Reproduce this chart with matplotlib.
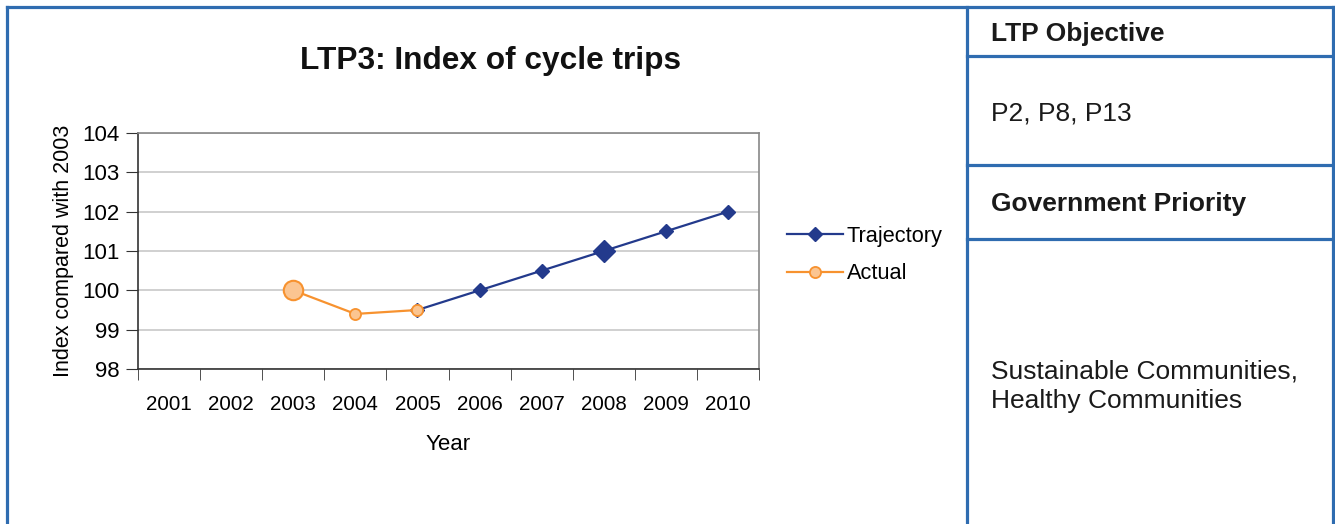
import numpy as np
import matplotlib.pyplot as plt
from matplotlib.lines import Line2D

plt.rcParams['font.family'] = ['Liberation Sans', 'DejaVu Sans']

# data
years = ['2001', '2002', '2003', '2004', '2005', '2006', '2007', '2008', '2009', '2010']
traj_years = ['2005', '2006', '2007', '2008', '2009', '2010']
traj_vals = [99.5, 100.0, 100.5, 101.0, 101.5, 102.0]
actual_years = ['2003', '2004', '2005']
actual_vals = [100.0, 99.4, 99.5]

W, H = 1335, 524
fig = plt.figure(figsize=(W / 100, H / 100), dpi=100)

def fx(px):
    return px / W

def fy(py):
    return 1 - py / H

# panel borders
border = '#2F6CB0'
segs = [((6.5, 6.5), (6.5, 530)), ((6.5, 1333), (6.5, 6.5)), ((966.5, 966.5), (6.5, 530)),
        ((1333, 1333), (6.5, 530)), ((966.5, 1333), (56, 56)), ((966.5, 1333), (164.5, 164.5)),
        ((966.5, 1333), (239.5, 239.5))]
for xs, ys in segs:
    fig.add_artist(Line2D([fx(x) for x in xs], [fy(y) for y in ys], color=border, lw=2.3,
                          solid_capstyle='projecting'))

# right side text
fs_r = 19
fig.text(fx(991), fy(34), 'LTP Objective', fontsize=fs_r, fontweight='bold', color='#1a1a1a', va='center')
fig.text(fx(991), fy(113), 'P2, P8, P13', fontsize=fs_r, color='#1a1a1a', va='center')
fig.text(fx(991), fy(204), 'Government Priority', fontsize=fs_r, fontweight='bold', color='#1a1a1a', va='center')
fig.text(fx(991), fy(386), 'Sustainable Communities,\nHealthy Communities', fontsize=fs_r, color='#1a1a1a',
         va='center', linespacing=1.3)

# chart
ax = fig.add_axes([fx(138), fy(369), fx(759) - fx(138), fy(133) - fy(369)])
xpos = {y: i for i, y in enumerate(years)}
tx = [xpos[y] for y in traj_years]
axx = [xpos[y] for y in actual_years]

navy = '#233A8C'
orange = '#F7922F'
ax.plot(tx, traj_vals, color=navy, lw=1.6, marker='D', ms=7, mfc=navy, mec=navy, label='Trajectory', zorder=3)
ax.plot(xpos['2008'], traj_vals[traj_years.index('2008')], 'D', color=navy, ms=11, zorder=4)
ax.plot(axx, actual_vals, color=orange, lw=1.6, marker='o', ms=8, mfc='#FBC591', mec=orange, mew=1.3,
        label='Actual', zorder=5)
ax.plot(xpos['2003'], actual_vals[0], 'o', ms=14, mfc='#FBC591', mec=orange, mew=1.5, zorder=6)

ax.set_xlim(-0.5, len(years) - 0.5)
ax.set_ylim(98, 104)
ax.set_yticks(np.arange(98, 105, 1))
ax.set_xticks(np.arange(len(years)))
ax.set_xticklabels(years)
ax.set_xticks(np.arange(-0.5, len(years), 1), minor=True)
ax.tick_params(axis='x', which='major', length=0, pad=19, labelsize=14.8)
ax.tick_params(axis='x', which='minor', length=8, direction='out', color='#333333')
ax.tick_params(axis='y', length=9, direction='out', labelsize=16, pad=4, color='#333333')
ax.yaxis.grid(True, color='#C8C8C8', lw=1.2)
ax.set_axisbelow(True)
for s in ['top', 'right']:
    ax.spines[s].set_color('#888888')
    ax.spines[s].set_linewidth(1.2)
for s in ['left', 'bottom']:
    ax.spines[s].set_color('#333333')
    ax.spines[s].set_linewidth(1.2)

ax.set_xlabel('Year', fontsize=16, labelpad=14)
ax.set_ylabel('Index compared with 2003', fontsize=15.5, labelpad=6)
fig.text(fx(490), fy(61), 'LTP3: Index of cycle trips', fontsize=22.8, fontweight='bold',
         ha='center', va='center', color='#111111')

leg = ax.legend(loc='center left', bbox_to_anchor=(fx(787), fy(255)), bbox_transform=fig.transFigure,
                frameon=False, fontsize=15.7, handlelength=2.55, handletextpad=0.2, labelspacing=0.75,
                borderpad=0, borderaxespad=0)

fig.savefig('out.png', dpi=100)
